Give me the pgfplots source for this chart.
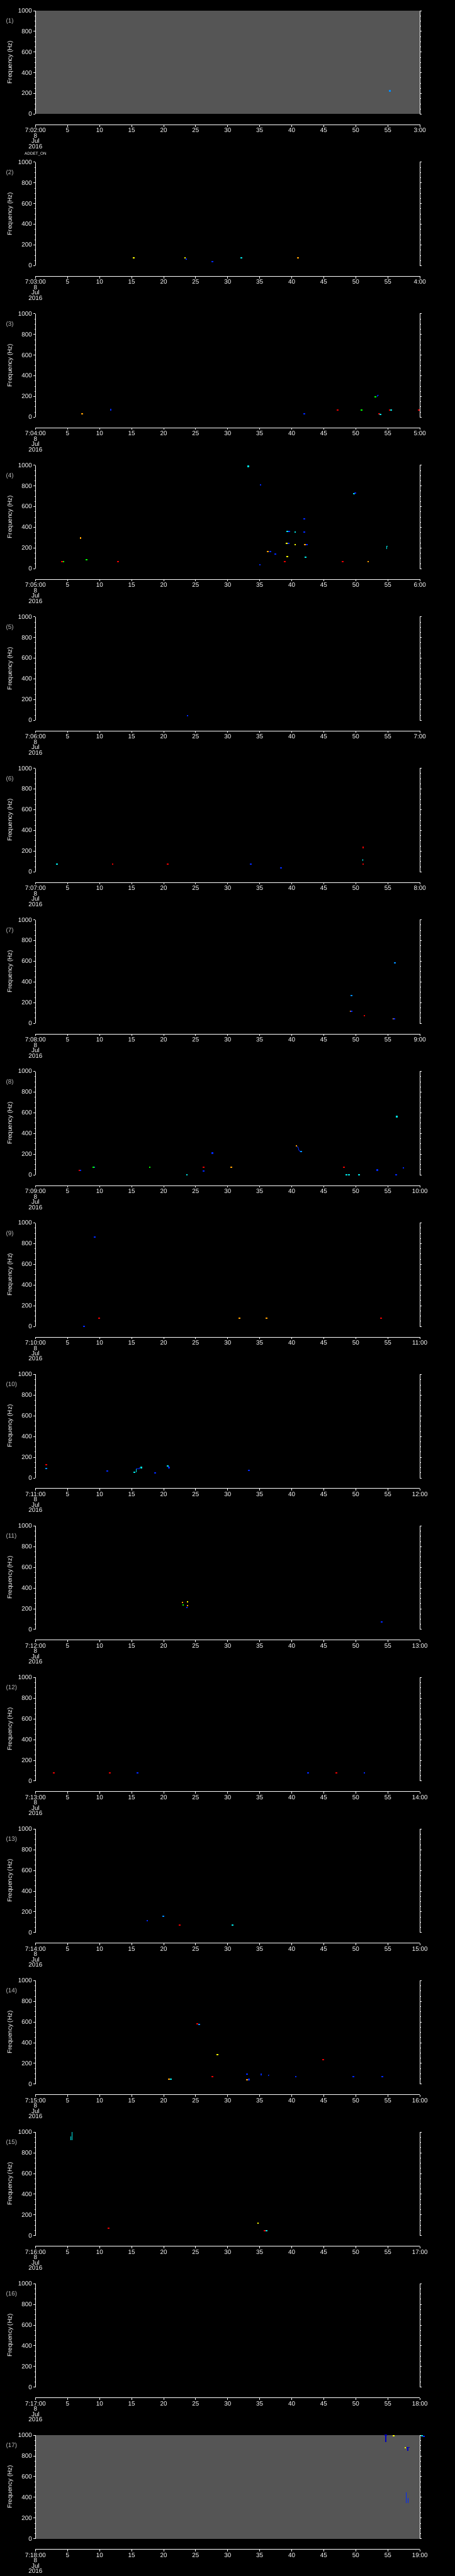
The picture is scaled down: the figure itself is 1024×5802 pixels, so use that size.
\documentclass[border=0pt]{standalone}
\usepackage{fontspec}
\setmainfont{Liberation Sans}
\usepackage{pgfplots}
\pgfplotsset{compat=1.18}
\definecolor{gbg}{RGB}{85,85,85}
\definecolor{lgrey}{RGB}{190,190,190}
\definecolor{sdblue}{RGB}{0,0,190}
\definecolor{sblue}{RGB}{0,40,255}
\definecolor{slblue}{RGB}{0,140,255}
\definecolor{scyan}{RGB}{0,230,230}
\definecolor{sgreen}{RGB}{0,255,0}
\definecolor{syellow}{RGB}{255,255,0}
\definecolor{sorange}{RGB}{255,160,0}
\definecolor{sred}{RGB}{230,0,0}
\pgfplotsset{
  panel/.style={
    scale only axis, width=865pt, height=233pt, anchor=north west,
    xmin=0, xmax=60, ymin=0, ymax=1000,
    axis x line=none, axis y line=box,
    ytick={0,200,400,600,800,1000},
    yticklabels={0,200,400,600,800,1000},
    minor y tick num=3,
    tick align=outside,
    yticklabel pos=left,
    major tick length=4.5pt, minor tick length=2.5pt,
    axis line style={white, line width=1.2pt},
    tick style={white, line width=1.2pt},
    yticklabel style={text=white, font=\fontsize{14}{14}\selectfont},
  },
  timeax/.style={
    scale only axis, width=865pt, height=5pt, anchor=south west,
    xmin=0, xmax=60, ymin=0, ymax=1,
    axis y line=none, axis x line=bottom,
    axis line style={-, white, line width=1.2pt},
    xtick={0,5,...,60}, tick align=outside, major tick length=4.5pt,
    tick style={white, line width=1.2pt},
    xticklabel style={text=white, align=center, font=\fontsize{14}{12}\selectfont},
  },
  pt/.style={only marks, mark=square*, mark size=0.8pt, mark options={xscale=1.6}},
  seg/.style={no marks, line width=1.2pt},
}
\newcommand{\panel}[5]{%
  \pgfmathsetmacro{\ptop}{24+(#1-1)*341.3}%
  \begin{axis}[panel, at={(80pt,-\ptop pt)}, #4]
    #5
  \end{axis}
  \begin{axis}[timeax, at={(80pt,-\ptop pt-257pt)}, xticklabels={{#2},5,10,15,20,25,30,35,40,45,50,55,{#3}}]
  \end{axis}
  \node[anchor=west, text=lgrey, font=\fontsize{14}{14}\selectfont] at (10pt,-\ptop pt-24pt) {(#1)};
  \node[rotate=90, text=white, font=\fontsize{14}{14}\selectfont] at (23pt,-\ptop pt-116.5pt) {Frequency (Hz)};
}
\begin{document}
\begin{tikzpicture}
\fill[black] (0,0) rectangle (1024pt,-5802pt);

\panel{1}{7:02:00\\8\\Jul\\2016\\[3pt]{\fontsize{9}{9}\selectfont ADDET\_ON}}{3:00}{axis background/.style={fill=gbg}}{
  \addplot[pt, slblue] coordinates {(55.3,227)};
}

\panel{2}{7:03:00\\8\\Jul\\2016}{4:00}{}{
  \addplot[pt, syellow] coordinates {(15.3,77) (23.3,79)};
  \addplot[pt, sblue] coordinates {(23.5,64) (27.6,40)};
  \addplot[pt, scyan] coordinates {(32.1,79)};
  \addplot[pt, sorange] coordinates {(40.9,79)};
}

\panel{3}{7:04:00\\8\\Jul\\2016}{5:00}{}{
  \addplot[pt, sorange] coordinates {(7.2,36)};
  \addplot[pt, sblue] coordinates {(11.7,74) (41.9,32)};
  \addplot[pt, sred] coordinates {(47.1,69) (53.6,32) (55.3,69) (59.8,69)};
  \addplot[pt, sgreen] coordinates {(50.9,69) (53.0,197)};
  \addplot[pt, scyan] coordinates {(53.8,30) (55.5,69)};
  \addplot[seg, sblue] coordinates {(53.3,197) (53.3,213) (53.6,213)};
}

\panel{4}{7:05:00\\8\\Jul\\2016}{6:00}{}{
  \addplot[pt, scyan] coordinates {(33.2,992) (49.7,729) (39.3,360) (40.5,359) (42.1,113)};
  \addplot[pt, sblue] coordinates {(35.1,811) (41.9,485) (39.6,362) (41.9,359) (39.5,246) (42.3,236) (36.6,170) (37.4,144) (35.0,40) (49.9,731)};
  \addplot[pt, sorange] coordinates {(7.0,299) (42.0,236) (36.2,170) (51.9,71)};
  \addplot[pt, syellow] coordinates {(39.2,246) (40.5,234) (39.3,121)};
  \addplot[pt, sgreen] coordinates {(7.9,90) (4.3,71)};
  \addplot[pt, sred] coordinates {(4.1,71) (12.8,71) (38.9,71) (47.9,71)};
  \addplot[seg, scyan] coordinates {(54.8,188) (54.8,220) (54.95,220)};
}

\panel{5}{7:06:00\\8\\Jul\\2016}{7:00}{}{
  \addplot[pt, sblue] coordinates {(23.7,46)};
}

\panel{6}{7:07:00\\8\\Jul\\2016}{8:00}{}{
  \addplot[pt, scyan] coordinates {(3.3,74)};
  \addplot[pt, sred] coordinates {(12.0,74) (20.6,74) (51.1,237) (51.1,74)};
  \addplot[pt, sblue] coordinates {(33.6,78) (38.3,39)};
  \addplot[seg, scyan] coordinates {(51.1,104) (51.1,124)};
}

\panel{7}{7:08:00\\8\\Jul\\2016}{9:00}{}{
  \addplot[pt, slblue] coordinates {(56.1,585) (49.3,268)};
  \addplot[pt, sorange] coordinates {(49.2,121) (55.9,44)};
  \addplot[pt, sblue] coordinates {(49.3,119) (56.0,44)};
  \addplot[pt, sred] coordinates {(51.3,74)};
}

\panel{8}{7:09:00\\8\\Jul\\2016}{10:00}{}{
  \addplot[pt, sred] coordinates {(6.8,47) (26.2,78) (48.1,78)};
  \addplot[pt, sblue] coordinates {(7.0,47) (9.1,78) (26.2,39) (27.6,212) (53.3,48) (56.3,5) (57.4,71)};
  \addplot[pt, sgreen] coordinates {(9.0,78) (17.8,78)};
  \addplot[pt, scyan] coordinates {(23.6,5) (48.5,5) (48.9,5) (50.5,5) (56.4,565)};
  \addplot[pt, sorange] coordinates {(30.5,78) (40.7,281)};
  \addplot[seg, sblue] coordinates {(40.8,275) (41.0,265) (41.1,240) (41.3,225)};
  \addplot[pt, slblue] coordinates {(41.4,225)};
}

\panel{9}{7:10:00\\8\\Jul\\2016}{11:00}{}{
  \addplot[pt, sblue] coordinates {(9.2,863) (7.5,2)};
  \addplot[pt, sred] coordinates {(9.9,79) (53.9,79)};
  \addplot[pt, sorange] coordinates {(31.8,79) (36.0,79)};
}

\panel{10}{7:11:00\\8\\Jul\\2016}{12:00}{}{
  \addplot[pt, sred] coordinates {(1.6,129)};
  \addplot[pt, slblue] coordinates {(1.6,95)};
  \addplot[pt, sblue] coordinates {(11.2,68) (18.6,52) (20.8,102) (33.3,74)};
  \addplot[pt, scyan] coordinates {(15.4,57) (16.5,102) (20.6,115)};
  \addplot[seg, scyan] coordinates {(15.7,57) (15.7,90)};
  \addplot[seg, sblue] coordinates {(15.7,90) (16.2,90) (16.2,102)};
}

\panel{11}{7:12:00\\8\\Jul\\2016}{13:00}{}{
  \addplot[pt, sorange] coordinates {(22.9,263) (23.7,231)};
  \addplot[pt, sgreen] coordinates {(23.0,239)};
  \addplot[pt, syellow] coordinates {(23.7,268)};
  \addplot[pt, sblue] coordinates {(23.6,216) (54.0,76)};
}

\panel{12}{7:13:00\\8\\Jul\\2016}{14:00}{}{
  \addplot[pt, sred] coordinates {(2.8,78) (11.6,78) (46.9,78)};
  \addplot[pt, sblue] coordinates {(15.9,78) (42.5,81) (51.3,78)};
}

\panel{13}{7:14:00\\8\\Jul\\2016}{15:00}{}{
  \addplot[pt, slblue] coordinates {(19.9,158)};
  \addplot[pt, sblue] coordinates {(17.4,118)};
  \addplot[pt, sred] coordinates {(22.5,74)};
  \addplot[pt, scyan] coordinates {(30.7,74)};
}

\panel{14}{7:15:00\\8\\Jul\\2016}{16:00}{}{
  \addplot[pt, sred] coordinates {(25.2,582) (44.9,239) (27.6,76)};
  \addplot[pt, slblue] coordinates {(25.5,577)};
  \addplot[pt, syellow] coordinates {(28.4,289)};
  \addplot[pt, sorange] coordinates {(20.8,50) (33.0,45)};
  \addplot[pt, scyan] coordinates {(21.1,50)};
  \addplot[pt, sblue] coordinates {(33.0,99) (33.3,46) (35.2,95) (40.6,76) (49.6,76) (54.1,76)};
  \addplot[seg, sblue] coordinates {(36.3,80) (36.3,89) (36.5,89)};
}

\panel{15}{7:16:00\\8\\Jul\\2016}{17:00}{}{
  \addplot[seg, scyan] coordinates {(5.5,924) (5.5,960)};
  \addplot[seg, scyan] coordinates {(5.65,924) (5.65,1000)};
  \addplot[pt, sred] coordinates {(11.4,76) (35.7,47)};
  \addplot[pt, syellow] coordinates {(34.7,123)};
  \addplot[pt, scyan] coordinates {(36.0,47)};
}

\panel{16}{7:17:00\\8\\Jul\\2016}{18:00}{}{}

\panel{17}{7:18:00\\8\\Jul\\2016}{19:00}{axis background/.style={fill=gbg}, clip=false}{
  \addplot[seg, sdblue, line width=2pt] coordinates {(54.5,1000) (54.9,1000)};
  \addplot[seg, sdblue, line width=2pt] coordinates {(54.7,1000) (54.7,935)};
  \addplot[pt, syellow] coordinates {(55.9,998)};
  \addplot[seg, sdblue, line width=2pt] coordinates {(57.9,883) (58.45,883)};
  \addplot[seg, sdblue, line width=2pt] coordinates {(58.1,883) (58.1,847)};
  \addplot[pt, syellow] coordinates {(57.7,883)};
  \addplot[seg, sblue, line width=1pt] coordinates {(57.9,450) (57.9,345)};
  \addplot[seg, sblue, line width=1pt] coordinates {(58.2,390) (58.2,345)};
  \addplot[pt, scyan] coordinates {(60.3,995)};
  \addplot[pt, sblue] coordinates {(60.6,990)};
}

\pgfresetboundingbox
\path (0,0) rectangle (1024pt,-5802pt);
\end{tikzpicture}
\end{document}
